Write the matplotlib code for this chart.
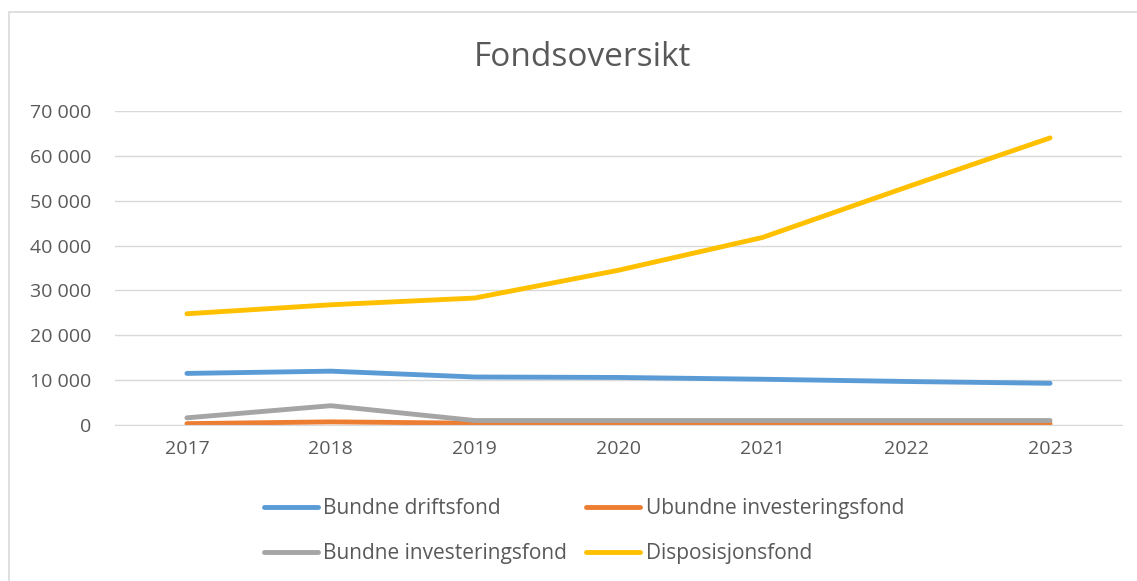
import matplotlib.pyplot as plt
from matplotlib.patches import Rectangle
from matplotlib.ticker import FuncFormatter, MultipleLocator

# Data
years = ['2017', '2018', '2019', '2020', '2021', '2022', '2023']
bundne_drift = [11500, 12000, 10700, 10600, 10200, 9700, 9300]
ubundne_inv = [300, 700, 400, 300, 300, 300, 300]
bundne_inv = [1600, 4300, 1000, 1000, 1000, 1000, 1000]
disposisjon = [24800, 26800, 28300, 34500, 41800, 53000, 64000]

series = [
    ('Bundne driftsfond', bundne_drift, '#5B9BD5'),
    ('Ubundne investeringsfond', ubundne_inv, '#ED7D31'),
    ('Bundne investeringsfond', bundne_inv, '#A5A5A5'),
    ('Disposisjonsfond', disposisjon, '#FFC000'),
]

plt.rcParams['font.family'] = ['Open Sans', 'DejaVu Sans']
text_col = '#595959'
grid_col = '#D9D9D9'

W, H = 1137, 581
fig = plt.figure(figsize=(W / 100, H / 100), dpi=100)

# chart frame (only top and left edges visible in the crop)
fig.patches.append(Rectangle((8.5 / W, -0.1), 1.2, 1 - 12.5 / H + 0.1,
                             transform=fig.transFigure, fill=False,
                             edgecolor=grid_col, linewidth=1.2))

ax = fig.add_axes([115 / W, (H - 425) / H, (1122 - 115) / W, (425 - 111) / H])
x = range(len(years))
lines = {}
for label, vals, col in series:
    lines[label], = ax.plot(x, vals, color=col, linewidth=3.5, solid_capstyle='round',
                            solid_joinstyle='round', label=label)

ax.set_xlim(-0.5, len(years) - 0.5)
ax.set_ylim(0, 70000)
ax.set_xticks(list(x))
ax.set_xticklabels(years)
ax.yaxis.set_major_locator(MultipleLocator(10000))
ax.yaxis.set_major_formatter(FuncFormatter(lambda v, p: f"{int(v):,}".replace(',', ' ')))
ax.grid(axis='y', color=grid_col, linewidth=1)
ax.set_axisbelow(True)
for s in ['top', 'right', 'left']:
    ax.spines[s].set_visible(False)
ax.spines['bottom'].set_color(grid_col)
ax.tick_params(axis='both', length=0, labelsize=14, colors=text_col)
ax.tick_params(axis='y', pad=17)
ax.tick_params(axis='x', pad=11)

fig.text(582 / W, 1 - 57 / H, 'Fondsoversikt', ha='center', va='center',
         fontsize=24, color=text_col)

# Excel fills the legend row by row
order = ['Bundne driftsfond', 'Bundne investeringsfond',
         'Ubundne investeringsfond', 'Disposisjonsfond']
fig.legend([lines[k] for k in order], order, ncol=2, frameon=False, fontsize=15,
           loc='center', bbox_to_anchor=(584 / W, 1 - 531 / H),
           handlelength=2.6, handletextpad=0.25, columnspacing=0.9,
           labelspacing=1.15, labelcolor=text_col)

fig.savefig('out.png', dpi=100, facecolor='white')
